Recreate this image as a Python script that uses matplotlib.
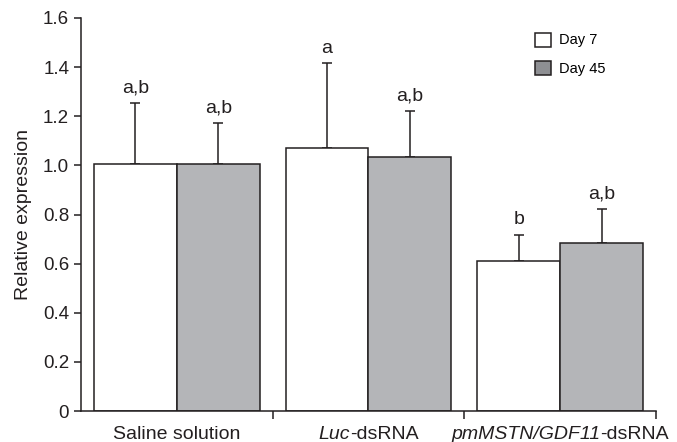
import matplotlib
matplotlib.use('Agg')
import matplotlib.pyplot as plt
from matplotlib.patches import Patch
from matplotlib.offsetbox import TextArea, HPacker, AnnotationBbox
import numpy as np

plt.rcParams['font.family'] = ['Liberation Sans', 'DejaVu Sans']

# Data
groups = ['Saline solution', 'Luc-dsRNA', 'pmMSTN/GDF11-dsRNA']
# label pieces: (text, italic?)
group_label_parts = [[('Saline solution', False)],
                     [('Luc', True), ('-dsRNA', False)],
                     [('pmMSTN/GDF11', True), ('-dsRNA', False)]]
day7_mean = [1.006, 1.072, 0.611]
day7_err = [0.249, 0.344, 0.107]
day45_mean = [1.005, 1.033, 0.684]
day45_err = [0.168, 0.190, 0.138]
day7_letters = ['a,b', 'a', 'b']
day45_letters = ['a,b', 'a,b', 'a,b']

edge = '#231f20'
gray = '#b4b5b8'

fig = plt.figure(figsize=(6.77, 4.42), dpi=100)
ax = fig.add_axes([0.1196, 0.0701, 0.8494, 0.8892])

x = np.arange(len(groups))
w = 0.432

ax.bar(x - w / 2, day7_mean, w, color='white', edgecolor=edge, linewidth=1.1, zorder=2)
ax.bar(x + w / 2, day45_mean, w, color=gray, edgecolor=edge, linewidth=1.1, zorder=2)

# upper error bars only
ax.errorbar(x - w / 2, day7_mean, yerr=[np.zeros(3), day7_err], fmt='none',
            ecolor=edge, elinewidth=1.1, capsize=3.3, capthick=1.1, zorder=1)
ax.errorbar(x + w / 2, day45_mean, yerr=[np.zeros(3), day45_err], fmt='none',
            ecolor=edge, elinewidth=1.1, capsize=3.3, capthick=1.1, zorder=1)

for xi, m, e, t in zip(x - w / 2, day7_mean, day7_err, day7_letters):
    ax.annotate(t, (xi, m + e), xytext=(0, 7.5), textcoords='offset points',
                ha='center', va='baseline', fontsize=14, color=edge)
for xi, m, e, t in zip(x + w / 2, day45_mean, day45_err, day45_letters):
    ax.annotate(t, (xi, m + e), xytext=(0, 7.5), textcoords='offset points',
                ha='center', va='baseline', fontsize=14, color=edge)

ax.set_xlim(-0.5, 2.5)
ax.set_ylim(0, 1.6)
ax.set_yticks(np.arange(0, 1.61, 0.2))
ax.set_yticklabels(['0'] + ['%.1f' % v for v in np.arange(0.2, 1.61, 0.2)])

# category labels with mixed italic/roman parts
ax.set_xticks(x)
ax.set_xticklabels([])
ax.set_xticks([0.5, 1.5, 2.5], minor=True)
for xi, parts in zip(x, group_label_parts):
    boxes = [TextArea(s, textprops=dict(fontsize=14, color=edge,
                                        style='italic' if it else 'normal'))
             for s, it in parts]
    pack = HPacker(children=boxes, align='baseline', pad=0, sep=0)
    ab = AnnotationBbox(pack, (xi, 0), xycoords=('data', 'axes fraction'),
                        xybox=(0, -10.5), boxcoords='offset points',
                        box_alignment=(0.5, 1), frameon=False, pad=0,
                        annotation_clip=False)
    ax.add_artist(ab)

ax.tick_params(axis='x', which='major', length=0)
ax.tick_params(axis='x', which='minor', length=6, width=1.1, direction='out', color=edge)
ax.tick_params(axis='y', length=5, width=1.1, direction='out', labelsize=13.5, colors=edge)

for s in ['top', 'right']:
    ax.spines[s].set_visible(False)
for s in ['left', 'bottom']:
    ax.spines[s].set_linewidth(1.1)
    ax.spines[s].set_color(edge)

ax.set_ylabel('Relative expression', fontsize=14, color=edge, labelpad=8)

handles = [Patch(facecolor='white', edgecolor=edge, linewidth=1.1, label='Day 7'),
           Patch(facecolor='#8e8f93', edgecolor=edge, linewidth=1.1, label='Day 45')]
ax.legend(handles=handles, loc='upper left', bbox_to_anchor=(0.79, 0.963),
          frameon=False, fontsize=10.5, handlelength=1.1, handleheight=1.1,
          handletextpad=0.5, labelspacing=0.95, borderpad=0, borderaxespad=0)

fig.savefig('out.png', dpi=100)
